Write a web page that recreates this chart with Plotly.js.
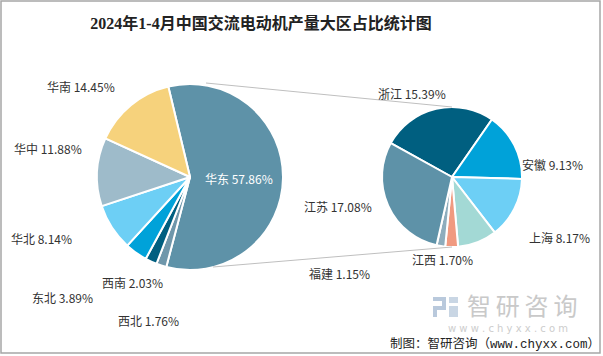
<!DOCTYPE html>
<html>
<head>
<meta charset="utf-8">
<script src="https://cdn.plot.ly/plotly-3.0.1.min.js"></script>
<style>html,body{margin:0;padding:0;background:#fff;}#chart{width:603px;height:356px;}</style>
</head>
<body>
<div id="chart"></div>
<script>
// ---- data ----
var regionNames = ['华东', '西北', '西南', '东北', '华北', '华中', '华南'];
var regionValues = [57.86, 1.76, 2.03, 3.89, 8.14, 11.88, 14.45];
var provinceNames = ['浙江', '安徽', '上海', '山东', '江西', '福建', '江苏'];
var provinceValues = [15.39, 9.13, 8.17, 5.24, 1.70, 1.15, 17.08];
var provinceShowLabel = [true, true, true, false, true, true, true];
var titleText = '2024年1-4月中国交流电动机产量大区占比统计图';

// ---- styles / layout helpers ----
var regionColors = ['#5e92a8', '#6f97ab', '#005f80', '#00a2d9', '#6dcff5', '#9ebbca', '#f6d27c'];
var provinceColors = ['#005f80', '#00a2d9', '#6dcff5', '#a3d9d5', '#f09a80', '#8eadbd', '#5e92a8'];
var W = 603, H = 356;
function px(x) { return x / W; }
function py(y) { return 1 - y / H; }

// label centre positions in pixels (layout only)
var regionLabelPos = [[239, 178], [148, 320], [132, 282], [62, 297], [41, 238], [48, 148], [81, 86]];
var provinceLabelPos = [[412, 94], [552, 164], [559, 237], null, [442, 259], [339, 273], [338, 206]];

var leftC = [190, 177], leftR = 93;
var rightC = [452, 177], rightR = 70;

var traces = [
  {
    type: 'pie', labels: regionNames, values: regionValues, sort: false,
    direction: 'clockwise', rotation: -13.5, textinfo: 'none', hoverinfo: 'label+value',
    marker: {colors: regionColors, line: {color: '#ffffff', width: 2}},
    domain: {x: [px(leftC[0] - leftR), px(leftC[0] + leftR)], y: [py(leftC[1] + leftR), py(leftC[1] - leftR)]},
    showlegend: false
  },
  {
    type: 'pie', labels: provinceNames, values: provinceValues, sort: false,
    direction: 'clockwise', rotation: -61, textinfo: 'none', hoverinfo: 'label+value',
    marker: {colors: provinceColors, line: {color: '#ffffff', width: 2}},
    domain: {x: [px(rightC[0] - rightR), px(rightC[0] + rightR)], y: [py(rightC[1] + rightR), py(rightC[1] - rightR)]},
    showlegend: false
  }
];

function ann(x, y, text, font, xanchor) {
  return {xref: 'paper', yref: 'paper', x: px(x), y: py(y), xanchor: xanchor || 'center', yanchor: 'middle',
    showarrow: false, text: text, font: font};
}

var annotations = [];
regionNames.forEach(function (n, i) {
  var p = regionLabelPos[i];
  annotations.push(ann(p[0], p[1], n + ' ' + regionValues[i].toFixed(2) + '%',
    {family: 'Noto Sans CJK SC', size: 12, color: i === 0 ? '#ffffff' : '#333333'}));
});
provinceNames.forEach(function (n, i) {
  if (!provinceShowLabel[i]) return;
  var p = provinceLabelPos[i];
  annotations.push(ann(p[0], p[1], n + ' ' + provinceValues[i].toFixed(2) + '%',
    {family: 'Noto Sans CJK SC', size: 12, color: '#333333'}));
});
// watermark
annotations.push(ann(465, 304, '智\u2009研\u2009咨\u2009询', {family: 'Noto Sans CJK SC', size: 24, color: '#c9c9c9'}, 'left'));
annotations.push(ann(508, 328, 'w w w . c h y x x . c o m', {family: 'DejaVu Sans', size: 10, color: '#cdcdcd'}));
// footer
annotations.push(ann(388, 344, '制图：智研咨询（www.chyxx.com）',
  {family: 'Liberation Mono, Noto Sans CJK SC', size: 12.5, color: '#222222'}, 'left'));

var shapes = [
  {type: 'rect', xref: 'paper', yref: 'paper', x0: px(1), x1: px(600), y0: py(353), y1: py(1),
   line: {color: '#a6a6a6', width: 1.5}},
  {type: 'line', xref: 'paper', yref: 'paper', x0: px(206), y0: py(83), x1: px(452), y1: py(107),
   line: {color: '#bfbfbf', width: 1}},
  {type: 'line', xref: 'paper', yref: 'paper', x0: px(213), y0: py(267), x1: px(452), y1: py(247),
   line: {color: '#bfbfbf', width: 1}},
  // logo icon approximation
  {type: 'rect', xref: 'paper', yref: 'paper', x0: px(433), x1: px(446), y0: py(301), y1: py(297), fillcolor: '#b9c9dc', line: {width: 0}},
  {type: 'rect', xref: 'paper', yref: 'paper', x0: px(442), x1: px(446), y0: py(309), y1: py(297), fillcolor: '#b9c9dc', line: {width: 0}},
  {type: 'rect', xref: 'paper', yref: 'paper', x0: px(433), x1: px(446), y0: py(310), y1: py(306), fillcolor: '#b9c9dc', line: {width: 0}},
  {type: 'rect', xref: 'paper', yref: 'paper', x0: px(433), x1: px(437), y0: py(317), y1: py(306), fillcolor: '#b9c9dc', line: {width: 0}},
  {type: 'rect', xref: 'paper', yref: 'paper', x0: px(449), x1: px(458), y0: py(303), y1: py(297), fillcolor: '#c9d6e4', line: {width: 0}},
  {type: 'rect', xref: 'paper', yref: 'paper', x0: px(449), x1: px(458), y0: py(317), y1: py(306), fillcolor: '#c9d6e4', line: {width: 0}}
];

var layout = {
  width: W, height: H,
  margin: {l: 0, r: 0, t: 0, b: 0},
  paper_bgcolor: '#ffffff',
  title: {text: titleText, x: 261 / W, xanchor: 'center', y: py(23), yanchor: 'middle',
    font: {family: 'Liberation Serif, Noto Sans CJK SC', size: 16, color: '#222222', weight: 'bold'}},
  annotations: annotations,
  shapes: shapes,
  showlegend: false
};

Plotly.newPlot('chart', traces, layout, {displayModeBar: false, staticPlot: true});
</script>
</body>
</html>
